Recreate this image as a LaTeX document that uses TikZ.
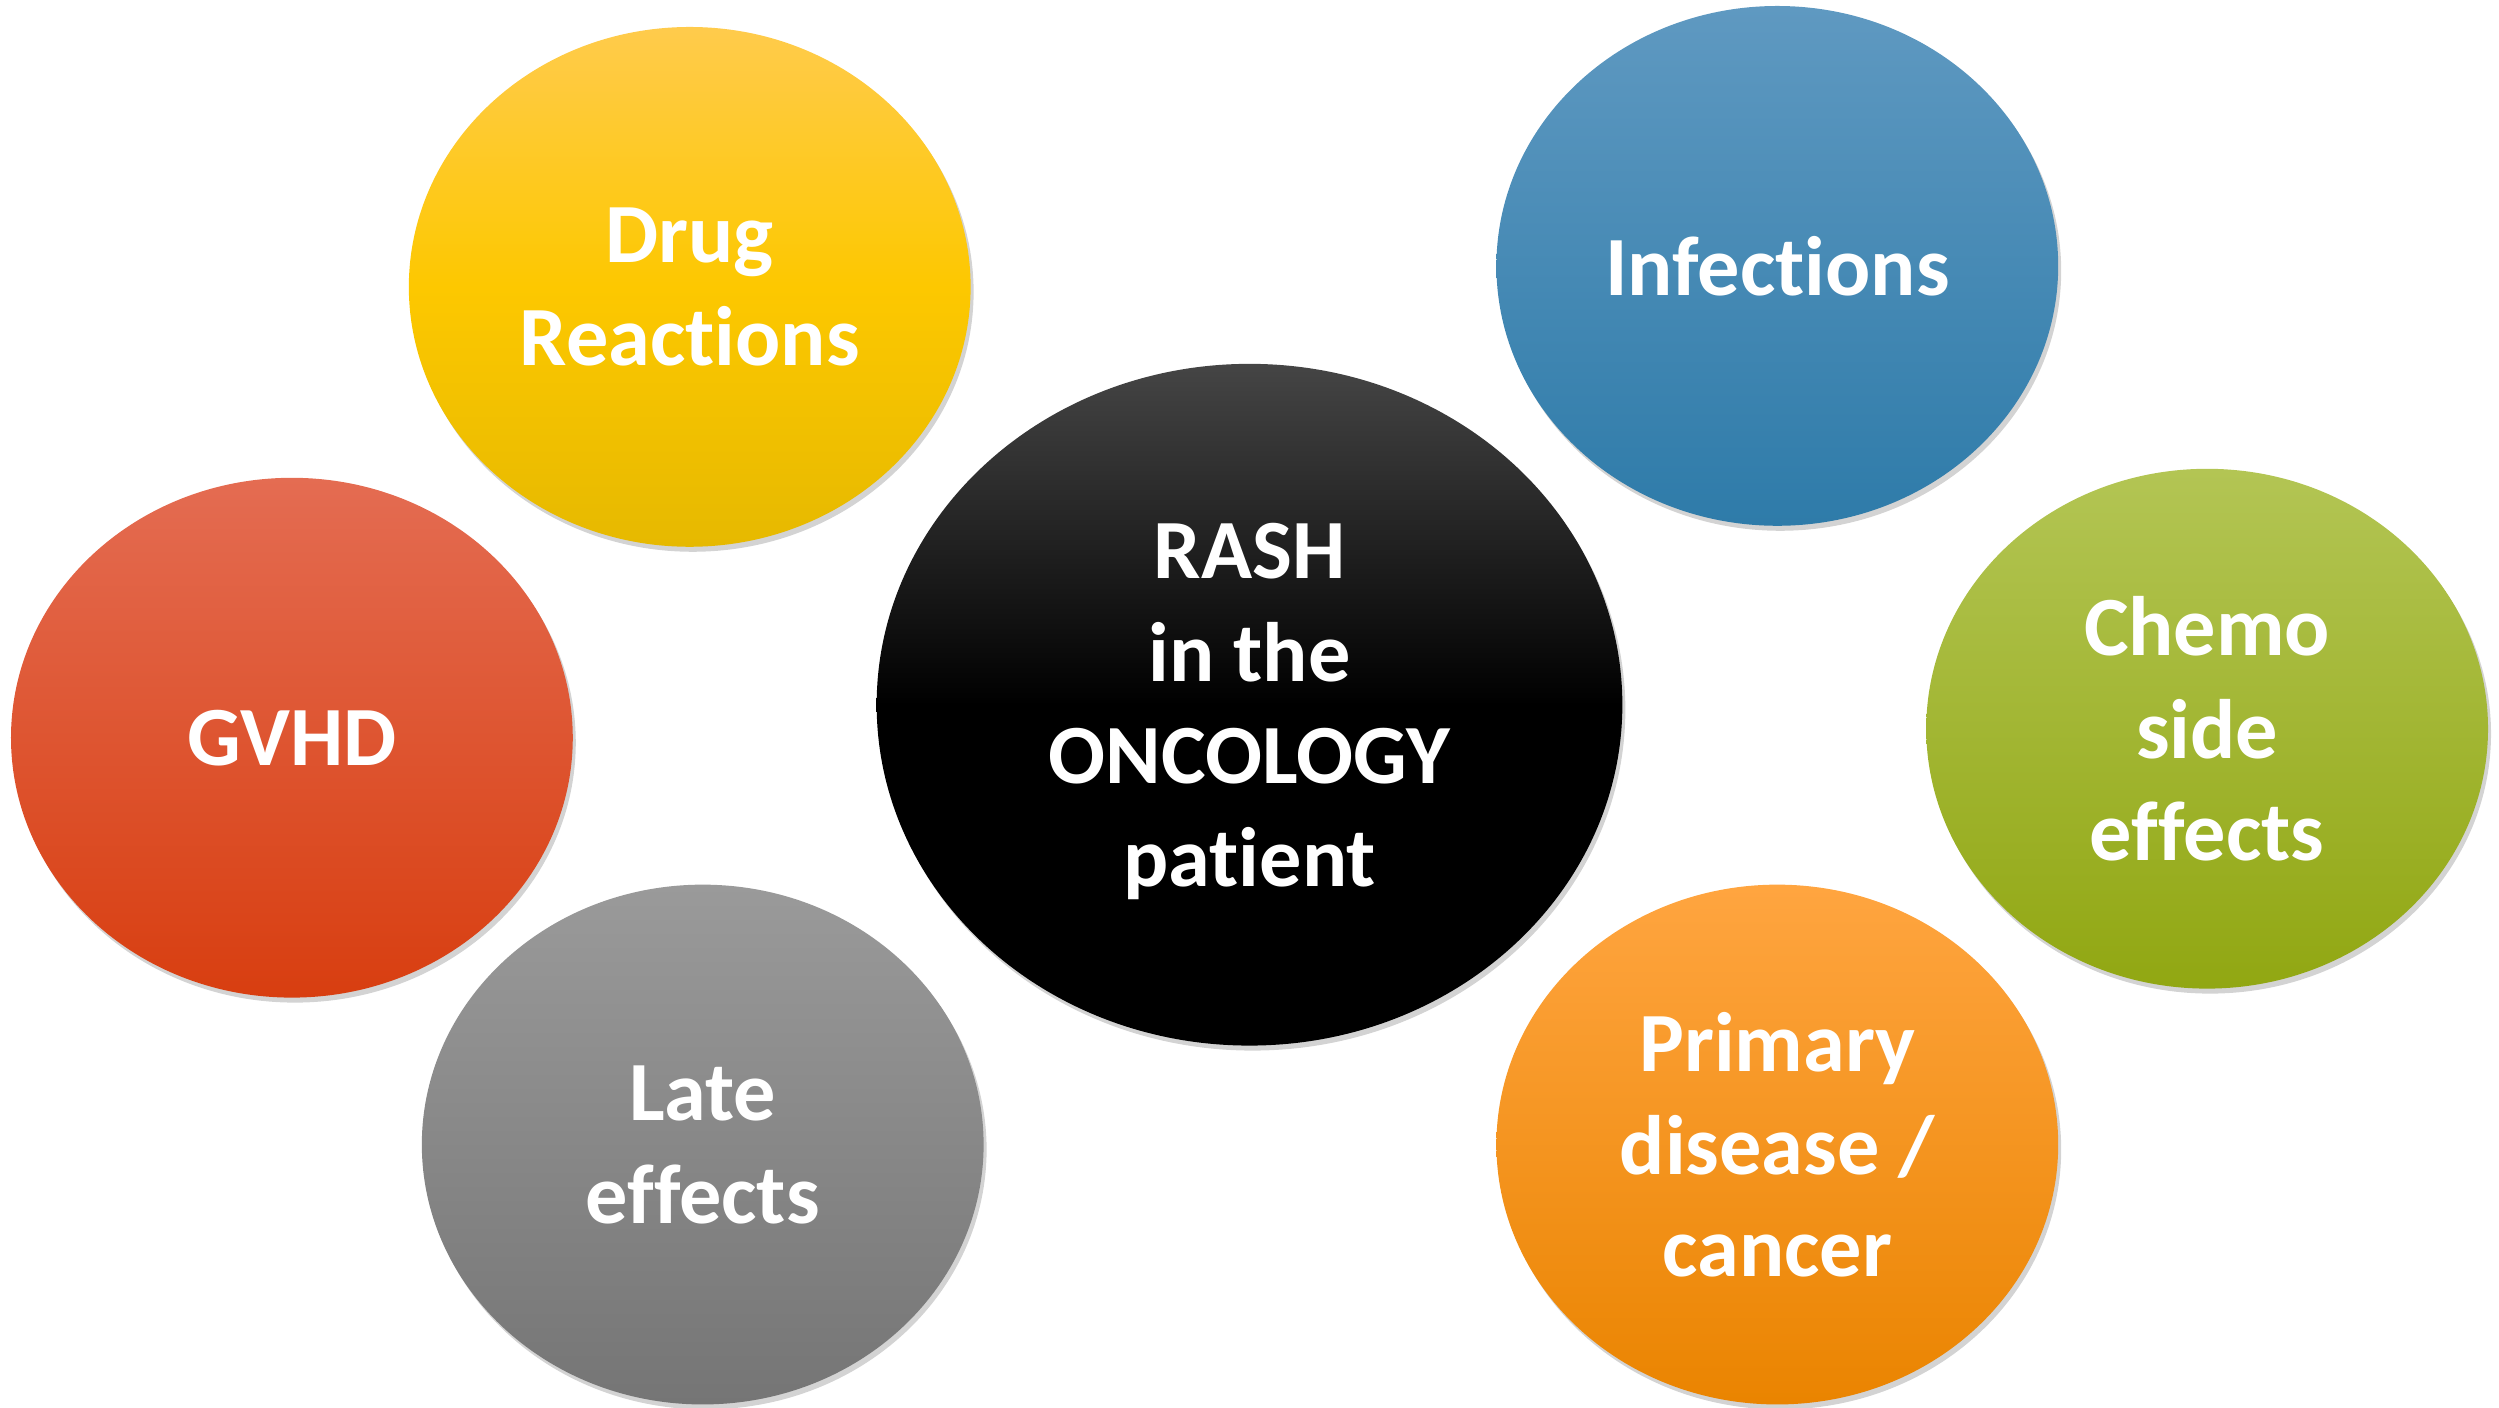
\documentclass[tikz,border=0pt]{standalone}
\usepackage{fontspec}
\setmainfont{Carlito}[RawFeature={-liga;-dlig;-clig}]
\usetikzlibrary{shapes.geometric,shadows}

\definecolor{rashtop}{HTML}{454545}
\definecolor{drugtop}{HTML}{FFCB4C}
\definecolor{drugmid}{HTML}{FDC800}
\definecolor{drugbot}{HTML}{E6B900}
\definecolor{inftop}{HTML}{5F99C1}
\definecolor{infbot}{HTML}{2E7BA9}
\definecolor{gvhdtop}{HTML}{E46C52}
\definecolor{gvhdbot}{HTML}{D83E10}
\definecolor{chemotop}{HTML}{B3C554}
\definecolor{chemobot}{HTML}{91A712}
\definecolor{latetop}{HTML}{9A9A9A}
\definecolor{latebot}{HTML}{757575}
\definecolor{primtop}{HTML}{FFA540}
\definecolor{primbot}{HTML}{EA8400}

\begin{document}
\begin{tikzpicture}[
  bubble/.style={ellipse, minimum width=5.62cm, minimum height=5.2cm,
    inner sep=0pt, align=center, text=white, text depth=0pt,
    font=\bfseries\fontsize{24}{29.2}\selectfont,
    drop shadow={shadow xshift=0.03cm, shadow yshift=-0.05cm, opacity=0.35}},
  bigbubble/.style={bubble, minimum width=7.46cm, minimum height=6.82cm}
]
  \useasboundingbox (0,0) rectangle (25,14.08);

  % --- 1. 周りの円 ---
  \node[bubble, top color=drugtop, bottom color=drugbot, middle color=drugmid]
    (drug) at (6.90,11.21) {Drug\\Reactions};
  \node[bubble, top color=inftop, bottom color=infbot]
    (inf) at (17.78,11.42) {Infections};
  \node[bubble, top color=gvhdtop, bottom color=gvhdbot]
    (gvhd) at (2.92,6.70) {GVHD};
  \node[bubble, top color=chemotop, bottom color=chemobot]
    (chemo) at (22.08,6.79) {Chemo\\side\\effects};
  \node[bubble, top color=latetop, bottom color=latebot]
    (late) at (7.03,2.63) {Late\\effects};
  \node[bubble, top color=primtop, bottom color=primbot]
    (prim) at (17.78,2.63) {Primary\\disease /\\cancer};

  % --- 2. 中央の円 ---
  \node[bigbubble, top color=rashtop, bottom color=black, middle color=black]
    (rash) at (12.50,7.03) {RASH\\in the\\ONCOLOGY\\patient};

\end{tikzpicture}
\end{document}
